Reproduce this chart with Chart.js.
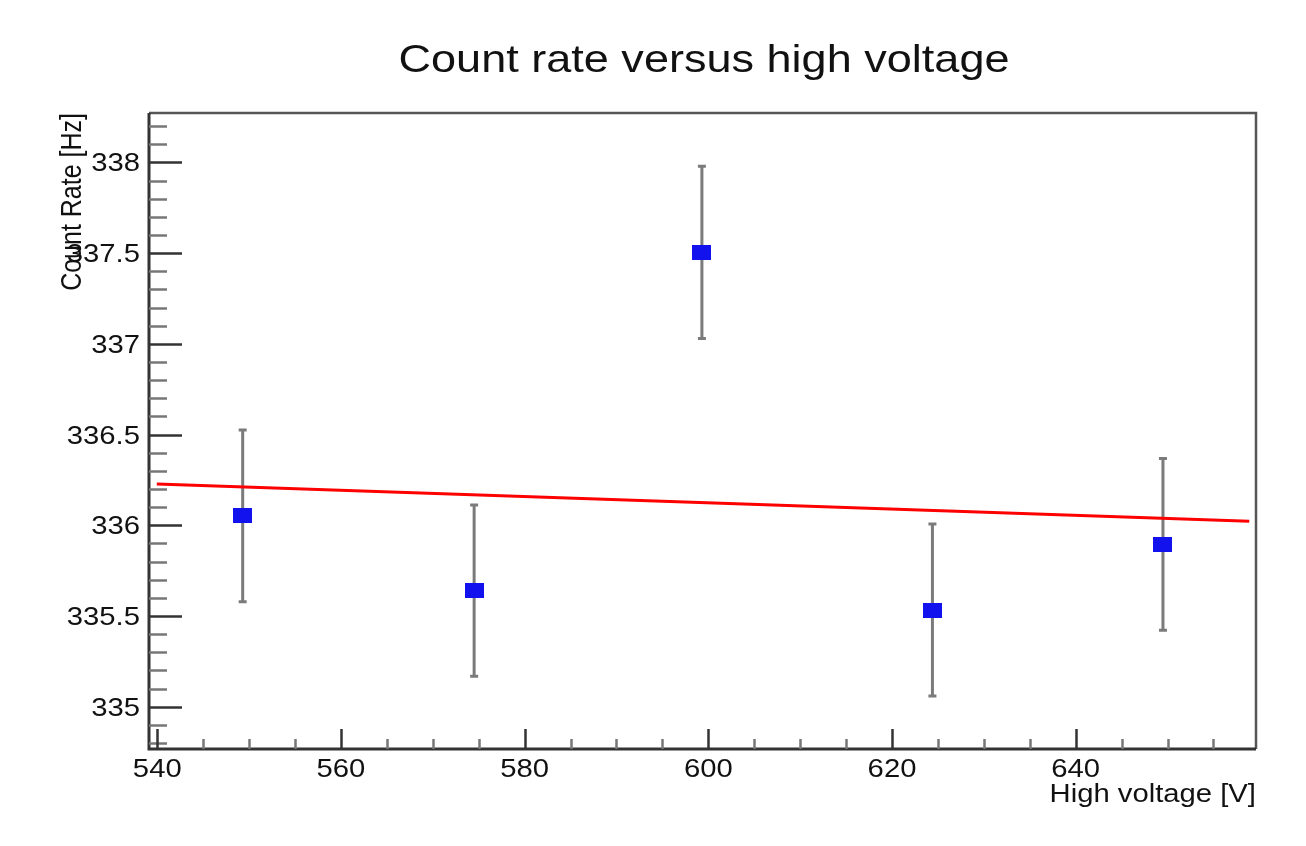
<!DOCTYPE html>
<html>
<head>
<meta charset="utf-8">
<script src="https://cdn.jsdelivr.net/npm/chart.js@4.4.1/dist/chart.umd.min.js"></script>
<style>
    body { margin: 0; background: #fff; }
    #wrap { width: 1306px; height: 846px; position: relative; }
</style>
</head>
<body>
<div id="wrap"><canvas id="myChart"></canvas></div>
<script>
        // measured values
        var hv = [549.3, 574.5, 599.3, 624.4, 649.5];
        var rate = [336.052, 335.640, 337.504, 335.533, 335.895];
        var rateErr = [0.473, 0.472, 0.475, 0.474, 0.473];

        // linear fit drawn over the range
        var fitX = [539.95, 658.9];
        var fitY = [336.227, 336.022];

        var xMajor = [540, 560, 580, 600, 620, 640];
        var yMajor = [335, 335.5, 336, 336.5, 337, 337.5, 338];
        var xLabels = ['540', '560', '580', '600', '620', '640'];
        var yLabels = ['335', '335.5', '336', '336.5', '337', '337.5', '338'];

        var titleText = 'Count rate versus high voltage';
        var xTitle = 'High voltage [V]';
        var yTitle = 'Count Rate [Hz]';

        var FONT = '"Liberation Sans", Arial, Helvetica, sans-serif';
        var SX = 1.17; // text in the reference is stretched sideways

        // blue marker, a bit wider than tall
        var marker = document.createElement('canvas');
        marker.width = 19;
        marker.height = 15;
        var mctx = marker.getContext('2d');
        mctx.fillStyle = '#1212ee';
        mctx.fillRect(0, 0, 19, 15);

        function wideText(ctx, text, x, y, align) {
            ctx.save();
            ctx.translate(x, y);
            ctx.scale(SX, 1);
            ctx.textAlign = align;
            ctx.textBaseline = 'alphabetic';
            ctx.fillText(text, 0, 0);
            ctx.restore();
        }

        var errorBars = {
            id: 'errorBars',
            beforeDatasetsDraw: function(chart) {
                var ctx = chart.ctx;
                var xs = chart.scales.x, ys = chart.scales.y;
                ctx.save();
                ctx.strokeStyle = '#7b7b7b';
                ctx.lineWidth = 3;
                for (var i = 0; i < hv.length; i++) {
                    var px = xs.getPixelForValue(hv[i]);
                    var top = ys.getPixelForValue(rate[i] + rateErr[i]);
                    var bot = ys.getPixelForValue(rate[i] - rateErr[i]);
                    ctx.beginPath();
                    ctx.moveTo(px, top);
                    ctx.lineTo(px, bot);
                    ctx.moveTo(px - 4, top);
                    ctx.lineTo(px + 4, top);
                    ctx.moveTo(px - 4, bot);
                    ctx.lineTo(px + 4, bot);
                    ctx.stroke();
                }
                ctx.restore();
            }
        };

        var rootFrame = {
            id: 'rootFrame',
            afterDraw: function(chart) {
                var ctx = chart.ctx;
                var a = chart.chartArea;
                var xs = chart.scales.x, ys = chart.scales.y;
                ctx.save();

                // frame
                ctx.strokeStyle = '#555';
                ctx.lineWidth = 2.5;
                ctx.beginPath();
                ctx.moveTo(a.left, a.top);
                ctx.lineTo(a.right, a.top);
                ctx.lineTo(a.right, a.bottom);
                ctx.stroke();

                ctx.strokeStyle = '#333';
                ctx.lineWidth = 3;
                ctx.beginPath();
                ctx.moveTo(a.left, a.top);
                ctx.lineTo(a.left, a.bottom);
                ctx.lineTo(a.right, a.bottom);
                ctx.stroke();

                // y ticks, pointing inside
                ctx.lineWidth = 2.5;
                for (var k = 3348; k <= 3382; k++) {
                    var v = k / 10;
                    var py = Math.round(ys.getPixelForValue(v)) + 0.5;
                    var major = (k % 5 === 0);
                    ctx.strokeStyle = major ? '#333' : '#777';
                    ctx.beginPath();
                    ctx.moveTo(a.left, py);
                    ctx.lineTo(a.left + (major ? 33 : 18), py);
                    ctx.stroke();
                }

                // x ticks
                for (var t = 540; t <= 655; t += 5) {
                    var px = Math.round(xs.getPixelForValue(t)) + 0.5;
                    var bigx = (t % 20 === 0);
                    ctx.strokeStyle = bigx ? '#333' : '#777';
                    ctx.beginPath();
                    ctx.moveTo(px, a.bottom);
                    ctx.lineTo(px, a.bottom - (bigx ? 20 : 10));
                    ctx.stroke();
                }

                // tick labels
                ctx.fillStyle = '#111';
                ctx.font = '25px ' + FONT;
                for (var i = 0; i < yMajor.length; i++) {
                    wideText(ctx, yLabels[i], a.left - 9, ys.getPixelForValue(yMajor[i]) + 9, 'right');
                }
                for (var j = 0; j < xMajor.length; j++) {
                    wideText(ctx, xLabels[j], xs.getPixelForValue(xMajor[j]), a.bottom + 28, 'center');
                }

                // axis titles
                wideText(ctx, xTitle, a.right, a.bottom + 53, 'right');

                ctx.save();
                ctx.translate(81, a.top);
                ctx.rotate(-Math.PI / 2);
                ctx.scale(1, SX);
                ctx.textAlign = 'right';
                ctx.textBaseline = 'alphabetic';
                ctx.fillText(yTitle, 0, 0);
                ctx.restore();

                // main title
                ctx.font = '38.5px ' + FONT;
                wideText(ctx, titleText, 704, 72, 'center');

                ctx.restore();
            }
        };

        var ctx = document.getElementById('myChart').getContext('2d');
        var scatterChart = new Chart(ctx, {
            type: 'scatter',
            data: {
                datasets: [
                    {
                        label: 'Fit',
                        data: fitX.map((value, index) => ({ x: value, y: fitY[index] })),
                        showLine: true,
                        borderColor: '#ff0000',
                        borderWidth: 3,
                        pointRadius: 0,
                        fill: false,
                        order: 0
                    },
                    {
                        label: 'Count rate',
                        data: hv.map((value, index) => ({ x: value, y: rate[index] })),
                        pointStyle: marker,
                        backgroundColor: '#1212ee',
                        borderWidth: 0,
                        order: 1
                    }
                ]
            },
            options: {
                responsive: true,
                maintainAspectRatio: false,
                animation: false,
                layout: {
                    padding: { left: 149, right: 50, top: 113, bottom: 97 }
                },
                plugins: {
                    legend: { display: false },
                    title: { display: false },
                    tooltip: { enabled: false }
                },
                scales: {
                    x: {
                        type: 'linear',
                        display: false,
                        min: 539.1,
                        max: 659.63
                    },
                    y: {
                        display: false,
                        min: 334.767,
                        max: 338.272
                    }
                }
            },
            plugins: [errorBars, rootFrame]
        });
</script>
</body>
</html>
